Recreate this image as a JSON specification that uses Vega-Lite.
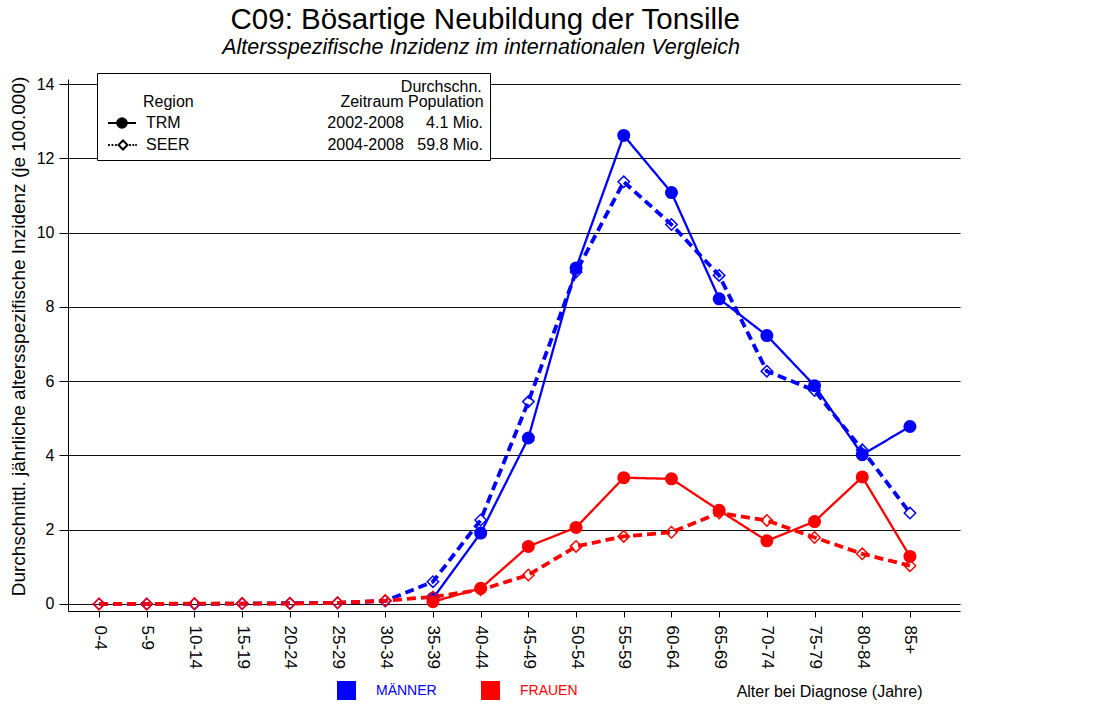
{
  "$schema": "https://vega.github.io/schema/vega-lite/v6.json",
  "autosize": "none",
  "width": 892,
  "height": 532,
  "padding": {"left": 68, "top": 79, "right": 136, "bottom": 96},
  "background": "white",
  "title": {
    "text": "C09: Bösartige Neubildung der Tonsille",
    "subtitle": "Altersspezifische Inzidenz im internationalen Vergleich",
    "font": "Liberation Sans",
    "fontSize": 29.5,
    "fontWeight": "normal",
    "color": "black",
    "subtitleFont": "Liberation Sans",
    "subtitleFontSize": 21.5,
    "subtitleFontStyle": "italic",
    "subtitleColor": "black",
    "subtitlePadding": 2,
    "anchor": "end",
    "frame": "group",
    "dx": -220,
    "offset": 13
  },
  "data": {
    "values": [
      {"Alter": "35-39", "Geschlecht": "MÄNNER", "Region": "TRM", "Inzidenz": 0.15},
      {"Alter": "40-44", "Geschlecht": "MÄNNER", "Region": "TRM", "Inzidenz": 1.91},
      {"Alter": "45-49", "Geschlecht": "MÄNNER", "Region": "TRM", "Inzidenz": 4.47},
      {"Alter": "50-54", "Geschlecht": "MÄNNER", "Region": "TRM", "Inzidenz": 9.05},
      {"Alter": "55-59", "Geschlecht": "MÄNNER", "Region": "TRM", "Inzidenz": 12.62},
      {"Alter": "60-64", "Geschlecht": "MÄNNER", "Region": "TRM", "Inzidenz": 11.08},
      {"Alter": "65-69", "Geschlecht": "MÄNNER", "Region": "TRM", "Inzidenz": 8.22},
      {"Alter": "70-74", "Geschlecht": "MÄNNER", "Region": "TRM", "Inzidenz": 7.23},
      {"Alter": "75-79", "Geschlecht": "MÄNNER", "Region": "TRM", "Inzidenz": 5.88},
      {"Alter": "80-84", "Geschlecht": "MÄNNER", "Region": "TRM", "Inzidenz": 4.02},
      {"Alter": "85+", "Geschlecht": "MÄNNER", "Region": "TRM", "Inzidenz": 4.78},
      {"Alter": "0-4", "Geschlecht": "MÄNNER", "Region": "SEER", "Inzidenz": 0.0},
      {"Alter": "5-9", "Geschlecht": "MÄNNER", "Region": "SEER", "Inzidenz": 0.0},
      {"Alter": "10-14", "Geschlecht": "MÄNNER", "Region": "SEER", "Inzidenz": 0.0},
      {"Alter": "15-19", "Geschlecht": "MÄNNER", "Region": "SEER", "Inzidenz": 0.01},
      {"Alter": "20-24", "Geschlecht": "MÄNNER", "Region": "SEER", "Inzidenz": 0.02},
      {"Alter": "25-29", "Geschlecht": "MÄNNER", "Region": "SEER", "Inzidenz": 0.03},
      {"Alter": "30-34", "Geschlecht": "MÄNNER", "Region": "SEER", "Inzidenz": 0.08},
      {"Alter": "35-39", "Geschlecht": "MÄNNER", "Region": "SEER", "Inzidenz": 0.6},
      {"Alter": "40-44", "Geschlecht": "MÄNNER", "Region": "SEER", "Inzidenz": 2.26},
      {"Alter": "45-49", "Geschlecht": "MÄNNER", "Region": "SEER", "Inzidenz": 5.45},
      {"Alter": "50-54", "Geschlecht": "MÄNNER", "Region": "SEER", "Inzidenz": 8.94},
      {"Alter": "55-59", "Geschlecht": "MÄNNER", "Region": "SEER", "Inzidenz": 11.37},
      {"Alter": "60-64", "Geschlecht": "MÄNNER", "Region": "SEER", "Inzidenz": 10.22},
      {"Alter": "65-69", "Geschlecht": "MÄNNER", "Region": "SEER", "Inzidenz": 8.85},
      {"Alter": "70-74", "Geschlecht": "MÄNNER", "Region": "SEER", "Inzidenz": 6.27},
      {"Alter": "75-79", "Geschlecht": "MÄNNER", "Region": "SEER", "Inzidenz": 5.75},
      {"Alter": "80-84", "Geschlecht": "MÄNNER", "Region": "SEER", "Inzidenz": 4.15},
      {"Alter": "85+", "Geschlecht": "MÄNNER", "Region": "SEER", "Inzidenz": 2.45},
      {"Alter": "35-39", "Geschlecht": "FRAUEN", "Region": "TRM", "Inzidenz": 0.06},
      {"Alter": "40-44", "Geschlecht": "FRAUEN", "Region": "TRM", "Inzidenz": 0.42},
      {"Alter": "45-49", "Geschlecht": "FRAUEN", "Region": "TRM", "Inzidenz": 1.55},
      {"Alter": "50-54", "Geschlecht": "FRAUEN", "Region": "TRM", "Inzidenz": 2.06},
      {"Alter": "55-59", "Geschlecht": "FRAUEN", "Region": "TRM", "Inzidenz": 3.4},
      {"Alter": "60-64", "Geschlecht": "FRAUEN", "Region": "TRM", "Inzidenz": 3.37},
      {"Alter": "65-69", "Geschlecht": "FRAUEN", "Region": "TRM", "Inzidenz": 2.52},
      {"Alter": "70-74", "Geschlecht": "FRAUEN", "Region": "TRM", "Inzidenz": 1.7},
      {"Alter": "75-79", "Geschlecht": "FRAUEN", "Region": "TRM", "Inzidenz": 2.22},
      {"Alter": "80-84", "Geschlecht": "FRAUEN", "Region": "TRM", "Inzidenz": 3.42},
      {"Alter": "85+", "Geschlecht": "FRAUEN", "Region": "TRM", "Inzidenz": 1.28},
      {"Alter": "0-4", "Geschlecht": "FRAUEN", "Region": "SEER", "Inzidenz": 0.0},
      {"Alter": "5-9", "Geschlecht": "FRAUEN", "Region": "SEER", "Inzidenz": 0.0},
      {"Alter": "10-14", "Geschlecht": "FRAUEN", "Region": "SEER", "Inzidenz": 0.01},
      {"Alter": "15-19", "Geschlecht": "FRAUEN", "Region": "SEER", "Inzidenz": 0.01},
      {"Alter": "20-24", "Geschlecht": "FRAUEN", "Region": "SEER", "Inzidenz": 0.01},
      {"Alter": "25-29", "Geschlecht": "FRAUEN", "Region": "SEER", "Inzidenz": 0.03},
      {"Alter": "30-34", "Geschlecht": "FRAUEN", "Region": "SEER", "Inzidenz": 0.09},
      {"Alter": "35-39", "Geschlecht": "FRAUEN", "Region": "SEER", "Inzidenz": 0.19},
      {"Alter": "40-44", "Geschlecht": "FRAUEN", "Region": "SEER", "Inzidenz": 0.38},
      {"Alter": "45-49", "Geschlecht": "FRAUEN", "Region": "SEER", "Inzidenz": 0.78},
      {"Alter": "50-54", "Geschlecht": "FRAUEN", "Region": "SEER", "Inzidenz": 1.55},
      {"Alter": "55-59", "Geschlecht": "FRAUEN", "Region": "SEER", "Inzidenz": 1.82},
      {"Alter": "60-64", "Geschlecht": "FRAUEN", "Region": "SEER", "Inzidenz": 1.93},
      {"Alter": "65-69", "Geschlecht": "FRAUEN", "Region": "SEER", "Inzidenz": 2.45},
      {"Alter": "70-74", "Geschlecht": "FRAUEN", "Region": "SEER", "Inzidenz": 2.25},
      {"Alter": "75-79", "Geschlecht": "FRAUEN", "Region": "SEER", "Inzidenz": 1.79},
      {"Alter": "80-84", "Geschlecht": "FRAUEN", "Region": "SEER", "Inzidenz": 1.35},
      {"Alter": "85+", "Geschlecht": "FRAUEN", "Region": "SEER", "Inzidenz": 1.03}
    ]
  },
  "encoding": {
    "x": {
      "field": "Alter",
      "type": "ordinal",
      "sort": ["0-4","5-9","10-14","15-19","20-24","25-29","30-34","35-39","40-44","45-49","50-54","55-59","60-64","65-69","70-74","75-79","80-84","85+"],
      "scale": {"type": "point", "padding": 0.85, "align": 0.383},
      "axis": {
        "title": "Alter bei Diagnose (Jahre)",
        "titleX": 854,
        "titleY": 85,
        "titleAlign": "right",
        "titleBaseline": "alphabetic",
        "titleFontSize": 16
      }
    },
    "y": {
      "field": "Inzidenz",
      "type": "quantitative",
      "scale": {"domain": [-0.19, 14.14], "nice": false, "zero": false},
      "axis": {
        "values": [0, 2, 4, 6, 8, 10, 12, 14],
        "title": "Durchschnittl. jährliche altersspezifische Inzidenz (je 100.000)",
        "titleX": -50,
        "titleY": 257,
        "titleAngle": 270,
        "titleAlign": "center",
        "titleBaseline": "middle",
        "titleFontSize": 19
      }
    }
  },
  "layer": [
    {
      "mark": {"type": "line"},
      "encoding": {
        "color": {
          "field": "Geschlecht",
          "type": "nominal",
          "scale": {"domain": ["MÄNNER", "FRAUEN"], "range": ["#0000ff", "#ff0000"]},
          "legend": {
            "title": null,
            "orient": "none",
            "legendX": 269,
            "legendY": 602,
            "direction": "horizontal",
            "symbolType": "square",
            "symbolSize": 361,
            "symbolStrokeWidth": 0,
            "symbolOpacity": 1,
            "labelFontSize": 14,
            "labelOffset": 20,
            "columnPadding": 44,
            "padding": 0,
            "encode": {
              "labels": {
                "update": {
                  "fill": {"signal": "datum.value == 'MÄNNER' ? '#0000ff' : '#ff0000'"}
                }
              }
            }
          }
        },
        "strokeDash": {
          "field": "Region",
          "type": "nominal",
          "scale": {"domain": ["SEER", "TRM"], "range": [[9, 5], [1, 0]]},
          "legend": null
        },
        "strokeWidth": {
          "field": "Region",
          "type": "nominal",
          "scale": {"type": "ordinal", "domain": ["SEER", "TRM"], "range": [3.8, 2.3]},
          "legend": null
        }
      }
    },
    {
      "transform": [{"filter": "datum.Region === 'TRM'"}],
      "mark": {"type": "point", "shape": "circle", "filled": true, "opacity": 1, "size": 170},
      "encoding": {
        "color": {
          "field": "Geschlecht",
          "type": "nominal",
          "scale": {"domain": ["MÄNNER", "FRAUEN"], "range": ["#0000ff", "#ff0000"]}
        }
      }
    },
    {
      "transform": [{"filter": "datum.Region === 'SEER'"}],
      "mark": {"type": "point", "shape": "diamond", "filled": false, "opacity": 1, "size": 130, "strokeWidth": 1.5},
      "encoding": {
        "color": {
          "field": "Geschlecht",
          "type": "nominal",
          "scale": {"domain": ["MÄNNER", "FRAUEN"], "range": ["#0000ff", "#ff0000"]}
        }
      }
    },
    {
      "transform": [{"filter": "false"}],
      "mark": {"type": "point", "filled": false, "strokeWidth": 2, "opacity": 1},
      "encoding": {
        "shape": {
          "field": "Region",
          "type": "nominal",
          "scale": {
            "domain": ["TRM", "SEER"],
            "range": [
              "M-0.5,0L3,0M0.65,0A0.6,0.6,0,1,0,1.85,0A0.6,0.6,0,1,0,0.65,0ZM0.875,0A0.375,0.375,0,1,0,1.625,0A0.375,0.375,0,1,0,0.875,0ZM1.1,0A0.15,0.15,0,1,0,1.4,0A0.15,0.15,0,1,0,1.1,0Z",
              "M-0.5,0L-0.27,0M-0.06,0L0.17,0M0.38,0L0.6,0M1.375,-0.56L1.935,0L1.375,0.56L0.815,0ZM2.15,0L2.37,0M2.55,0L2.77,0M2.9,0L3.1,0"
            ]
          },
          "legend": {
            "title": [
              "\u200b\u00a0\u00a0\u00a0\u00a0\u00a0\u00a0\u00a0\u00a0\u00a0\u00a0\u00a0\u00a0\u00a0\u00a0\u00a0\u00a0\u00a0\u00a0\u00a0\u00a0\u00a0\u00a0\u00a0\u00a0\u00a0\u00a0\u00a0\u00a0\u00a0\u00a0\u00a0\u00a0\u00a0\u00a0\u00a0\u00a0\u00a0\u00a0\u00a0\u00a0\u00a0\u00a0\u00a0\u00a0\u00a0\u00a0\u00a0\u00a0\u00a0\u00a0\u00a0\u00a0\u00a0\u00a0\u00a0\u00a0\u00a0\u00a0\u00a0\u00a0\u00a0\u00a0\u00a0\u00a0\u00a0\u00a0\u00a0Durchschn.",
              "\u200b\u00a0\u00a0\u00a0\u00a0\u00a0\u00a0\u00a0\u00a0\u00a0Region\u00a0\u00a0\u00a0\u00a0\u00a0\u00a0\u00a0\u00a0\u00a0\u00a0\u00a0\u00a0\u00a0\u00a0\u00a0\u00a0\u00a0\u00a0\u00a0\u00a0\u00a0\u00a0\u00a0\u00a0\u00a0\u00a0\u00a0\u00a0\u00a0\u00a0\u00a0\u00a0\u00a0Zeitraum\u00a0Population"
            ],
            "orient": "none",
            "legendX": 29,
            "legendY": -6,
            "padding": 6,
            "strokeColor": "black",
            "fillColor": "white",
            "symbolSize": 256,
            "symbolStrokeColor": "black",
            "symbolStrokeWidth": 2,
            "symbolOpacity": 1,
            "labelFontSize": 16,
            "labelColor": "black",
            "labelOffset": 25,
            "labelLimit": 1000,
            "rowPadding": 4,
            "titleFontSize": 16,
            "titleFontWeight": "normal",
            "titleColor": "black",
            "titleLineHeight": 15,
            "titlePadding": 4,
            "titleAlign": "left",
            "titleLimit": 1000,
            "labelExpr": "datum.label == 'TRM' ? 'TRM' + pad('', 33, '\u00a0') + '2002-2008' + pad('', 5, '\u00a0') + '4.1 Mio.' : 'SEER' + pad('', 31, '\u00a0') + '2004-2008' + pad('', 3, '\u00a0') + '59.8 Mio.'"
          }
        },
        "stroke": {
          "field": "Region",
          "type": "nominal",
          "scale": {"domain": ["TRM", "SEER"], "range": ["black", "black"]},
          "legend": {
            "title": [
              "\u200b\u00a0\u00a0\u00a0\u00a0\u00a0\u00a0\u00a0\u00a0\u00a0\u00a0\u00a0\u00a0\u00a0\u00a0\u00a0\u00a0\u00a0\u00a0\u00a0\u00a0\u00a0\u00a0\u00a0\u00a0\u00a0\u00a0\u00a0\u00a0\u00a0\u00a0\u00a0\u00a0\u00a0\u00a0\u00a0\u00a0\u00a0\u00a0\u00a0\u00a0\u00a0\u00a0\u00a0\u00a0\u00a0\u00a0\u00a0\u00a0\u00a0\u00a0\u00a0\u00a0\u00a0\u00a0\u00a0\u00a0\u00a0\u00a0\u00a0\u00a0\u00a0\u00a0\u00a0\u00a0\u00a0\u00a0\u00a0Durchschn.",
              "\u200b\u00a0\u00a0\u00a0\u00a0\u00a0\u00a0\u00a0\u00a0\u00a0Region\u00a0\u00a0\u00a0\u00a0\u00a0\u00a0\u00a0\u00a0\u00a0\u00a0\u00a0\u00a0\u00a0\u00a0\u00a0\u00a0\u00a0\u00a0\u00a0\u00a0\u00a0\u00a0\u00a0\u00a0\u00a0\u00a0\u00a0\u00a0\u00a0\u00a0\u00a0\u00a0\u00a0Zeitraum\u00a0Population"
            ],
            "orient": "none",
            "legendX": 29,
            "legendY": -6,
            "padding": 6,
            "strokeColor": "black",
            "fillColor": "white",
            "symbolSize": 256,
            "symbolStrokeColor": "black",
            "symbolStrokeWidth": 2,
            "symbolOpacity": 1,
            "labelFontSize": 16,
            "labelColor": "black",
            "labelOffset": 25,
            "labelLimit": 1000,
            "rowPadding": 4,
            "titleFontSize": 16,
            "titleFontWeight": "normal",
            "titleColor": "black",
            "titleLineHeight": 15,
            "titlePadding": 4,
            "titleAlign": "left",
            "titleLimit": 1000,
            "labelExpr": "datum.label == 'TRM' ? 'TRM' + pad('', 33, '\u00a0') + '2002-2008' + pad('', 5, '\u00a0') + '4.1 Mio.' : 'SEER' + pad('', 31, '\u00a0') + '2004-2008' + pad('', 3, '\u00a0') + '59.8 Mio.'"
          }
        }
      }
    }
  ],
  "config": {
    "font": "Liberation Sans",
    "view": {"stroke": null},
    "axis": {
      "labelFont": "Liberation Sans",
      "titleFont": "Liberation Sans",
      "labelColor": "black",
      "titleColor": "black",
      "titleFontWeight": "normal",
      "domainColor": "black",
      "tickColor": "black"
    },
    "axisY": {
      "grid": true,
      "gridColor": "#111111",
      "gridWidth": 1,
      "labelFontSize": 16,
      "tickSize": 9,
      "labelPadding": 5
    },
    "axisX": {
      "grid": false,
      "labelFontSize": 17,
      "labelAngle": 90,
      "tickSize": 6,
      "labelPadding": 8
    },
    "legend": {
      "labelFont": "Liberation Sans",
      "titleFont": "Liberation Sans"
    }
  }
}
